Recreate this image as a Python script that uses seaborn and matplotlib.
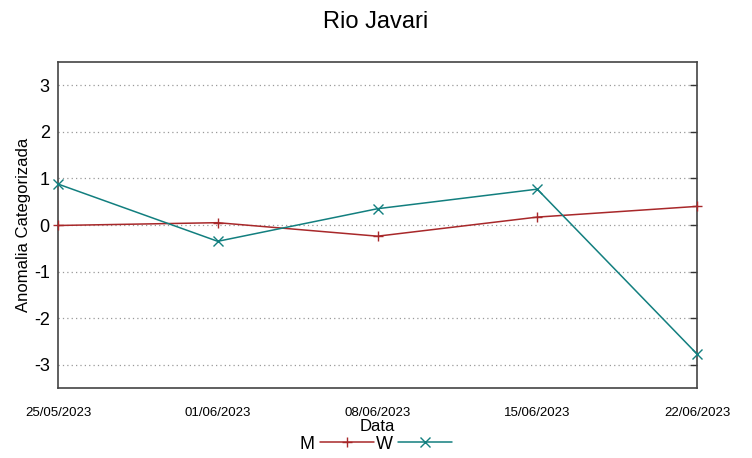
import matplotlib
matplotlib.use("Agg")
import matplotlib.pyplot as plt
import numpy as np
import pandas as pd
import seaborn as sns

datas = ["2023-05-25", "2023-06-01", "2023-06-08", "2023-06-15", "2023-06-22"]
rotulos = ["25/05/2023", "01/06/2023", "08/06/2023", "15/06/2023", "22/06/2023"]
m_vals = [-0.01, 0.05, -0.24, 0.17, 0.40]
w_vals = [0.88, -0.35, 0.35, 0.77, -2.77]

sns.set_style("white")
plt.rcParams['font.family'] = ['Liberation Sans', 'DejaVu Sans']
plt.rcParams['axes.unicode_minus'] = False
plt.rcParams['text.color'] = 'black'
plt.rcParams['axes.labelcolor'] = 'black'
plt.rcParams['xtick.color'] = 'black'
plt.rcParams['ytick.color'] = 'black'

df = pd.DataFrame({
    "Data": pd.to_datetime(datas * 2),
    "valor": m_vals + w_vals,
    "serie": ["M"] * 5 + ["W"] * 5,
})

fig = plt.figure(figsize=(7.52, 4.58), dpi=100)
ax = fig.add_axes([0.0771, 0.1528, 0.8498, 0.7118])

cores = {"M": "#a8282a", "W": "#127f7f"}
marcas = {"M": "+", "W": "x"}
for s in ["M", "W"]:
    sub = df[df.serie == s]
    sns.lineplot(data=sub, x="Data", y="valor", color=cores[s], marker=marcas[s],
                 markersize=7, markeredgewidth=1.0, markeredgecolor=cores[s],
                 linewidth=1.1, ax=ax, label=s, legend=False, clip_on=False, zorder=3)

ax.set_xlim(pd.Timestamp(datas[0]), pd.Timestamp(datas[-1]))
ax.set_ylim(-3.5, 3.5)
ax.set_yticks([-3, -2, -1, 0, 1, 2, 3])
ax.set_xticks(pd.to_datetime(datas))
ax.set_xticklabels(rotulos, fontsize=9.5)
ax.tick_params(axis='x', pad=14)
ax.tick_params(axis='both', direction='in', length=5, width=1, color='#333333', right=True)
ax.tick_params(axis='y', labelsize=13, pad=6)
ax.yaxis.grid(True, linestyle=(0, (1, 2.5)), color='#999999', linewidth=0.9)
for sp in ax.spines.values():
    sp.set_color('#444444')
    sp.set_linewidth(1.2)

ax.set_xlabel("Data", fontsize=12, labelpad=0)
ax.set_ylabel("Anomalia Categorizada", fontsize=12, labelpad=2)
fig.suptitle("Rio Javari", fontsize=17, y=0.975)

h, l = ax.get_legend_handles_labels()
fig.legend(h, l, loc='center', bbox_to_anchor=(0.5, 0.03), ncol=2, frameon=False,
           markerfirst=False, handlelength=3.0, handletextpad=0.3, columnspacing=0.1,
           fontsize=13, borderaxespad=0)

fig.savefig("out.png", dpi=100)
